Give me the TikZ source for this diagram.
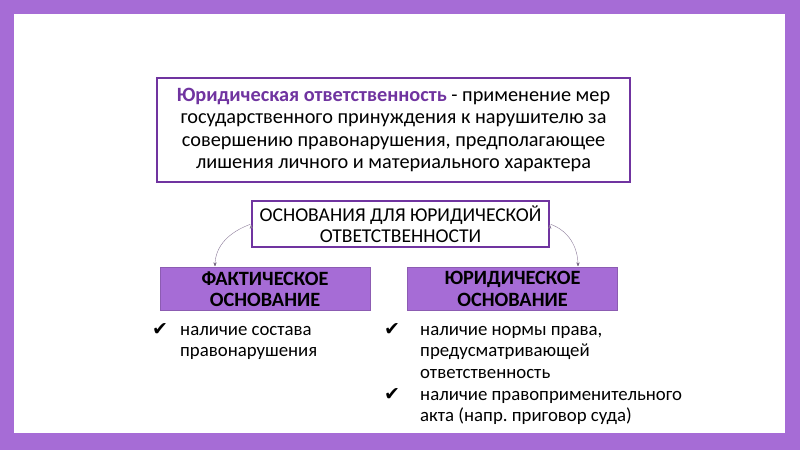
\documentclass[tikz,border=0pt]{standalone}
\usepackage{fontspec}
\setmainfont{Carlito}
\newfontfamily\symfont{DejaVu Sans}
\usetikzlibrary{arrows,positioning}
\definecolor{lilac}{RGB}{166,108,214}
\definecolor{lilacdark}{RGB}{140,92,178}
\definecolor{plum}{RGB}{112,52,160}
\frenchspacing
\tikzset{
    %Define standard arrow tip
    >=stealth',
    % Define arrow style
    pil/.style={
           ->,
           thin,
           draw=gray!70!lilac,
           shorten <=1pt,
           shorten >=1pt,}
}

\begin{document}
\begin{tikzpicture}[x=1pt,y=-1pt,
defbox/.style={draw=plum, line width=1.6pt, fill=white, align=center, inner sep=0pt},
basebox/.style={draw=lilacdark, fill=lilac, line width=0.8pt, minimum width=210pt, minimum height=43pt, align=center, inner sep=0pt, font=\bfseries\fontsize{20.3}{21.5}\selectfont},
itemtext/.style={anchor=north west, align=left, inner sep=0pt, font=\fontsize{18.8}{21.5}\selectfont},
tick/.style={font=\symfont\fontsize{19}{19}\selectfont, inner sep=0pt},
]
%Frame
\fill[lilac] (0,0) rectangle (800,450);
\fill[white] (14,14) rectangle (785,433);

%Nodes
\node[defbox, minimum width=473pt, minimum height=104pt, font=\fontsize{20.3}{22.5}\selectfont](def) at (393.5,130)
  {{\color{plum}\bfseries Юридическая ответственность} - применение мер\\
   государственного принуждения к нарушителю за\\
   совершению правонарушения, предполагающее\\
   лишения личного и материального характера};

\node[defbox, minimum width=297pt, minimum height=46pt, font=\fontsize{19.6}{21}\selectfont](osn) at (400.5,224)
  {ОСНОВАНИЯ ДЛЯ ЮРИДИЧЕСКОЙ\\ОТВЕТСТВЕННОСТИ};

\node[basebox](fakt) at (265,289){ФАКТИЧЕСКОЕ\\ОСНОВАНИЕ};
\node[basebox](jur) at (512.5,289){ЮРИДИЧЕСКОЕ\\ОСНОВАНИЕ};

\node[itemtext](itA) at (180,326){наличие состава\\правонарушения};
\node[itemtext](itB) at (420,326){наличие нормы права,\\предусматривающей\\ответственность};
\node[itemtext](itC) at (420,391){наличие правоприменительного\\акта (напр. приговор суда)};

\node[tick](chkA) at (160,330){✔};
\node[tick](chkB) at (392,330){✔};
\node[tick](chkC) at (392,395){✔};

\path[pil] (osn.west) edge [out=200, in=90] ([xshift=-50pt]fakt.north);
\path[pil] (osn.east) edge [out=-20, in=90] ([xshift=65.5pt]jur.north);

\end{tikzpicture}
\end{document}
